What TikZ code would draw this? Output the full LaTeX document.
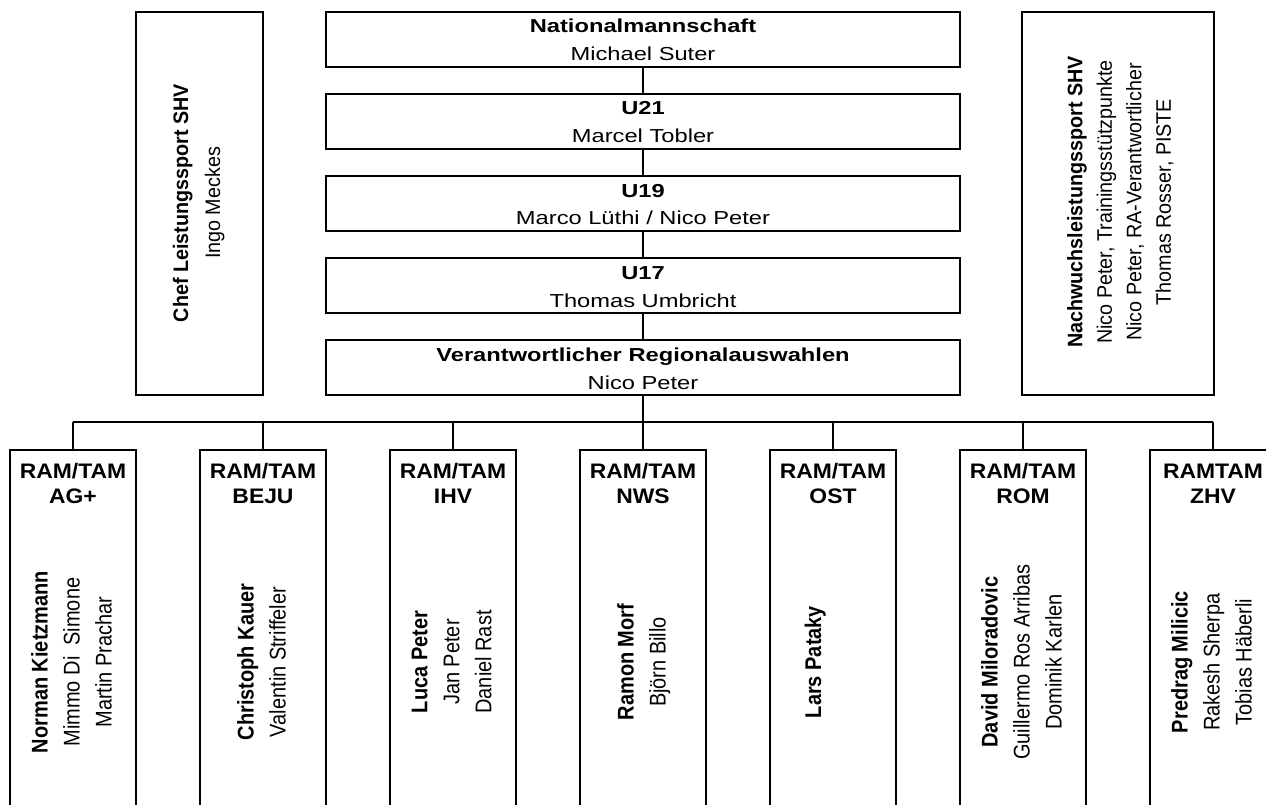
\documentclass[tikz,border=0pt]{standalone}
\usepackage{fontspec}
\setmainfont{Liberation Sans}
\newfontfamily\topf[FakeStretch=1.26]{Liberation Sans}
\newfontfamily\hdrf[FakeStretch=1.09]{Liberation Sans}
\newfontfamily\sidef[FakeStretch=0.94]{Liberation Sans}
\newfontfamily\botf[FakeStretch=0.88]{Liberation Sans}
\begin{document}
\begin{tikzpicture}[x=1pt,y=-1pt,
  box/.style={draw, line width=1.1pt, rectangle, inner sep=0pt, outer sep=0pt},
  topbox/.style={box, minimum width=634, minimum height=55},
  botbox/.style={box, minimum width=126, minimum height=424},
  conn/.style={draw, line width=1.1pt},
  topt/.style={anchor=base, inner sep=0pt, font=\topf\fontsize{18.8}{28}\selectfont},
  hdrt/.style={anchor=base, inner sep=0pt, font=\hdrf\fontsize{21}{26}\selectfont\bfseries},
  sidet/.style={rotate=90, align=center, inner sep=0pt, text depth=0pt},
  bott/.style={rotate=90, align=center, inner sep=0pt, text depth=0pt, font=\botf\fontsize{22.7}{32}\selectfont}]
\useasboundingbox (0,0) rectangle (1266,805);
\clip (0,0) rectangle (1266,805);
\fill[white] (0,0) rectangle (1266,805);

% top chain
\node[topbox] (nat) at (643,39.5) {};
\node[topbox] (u21) at (643,121.5) {};
\node[topbox] (u19) at (643,203.5) {};
\node[topbox] (u17) at (643,285.5) {};
\node[topbox] (reg) at (643,367.5) {};

\node[topt] (natA) at (643,33) {\bfseries Nationalmannschaft};
\node[topt] (natB) at (643,61) {Michael Suter};
\node[topt] (u21A) at (643,115) {\bfseries U21};
\node[topt] (u21B) at (643,143) {Marcel Tobler};
\node[topt] (u19A) at (643,197) {\bfseries U19};
\node[topt] (u19B) at (643,225) {Marco Lüthi / Nico Peter};
\node[topt] (u17A) at (643,279) {\bfseries U17};
\node[topt] (u17B) at (643,307) {Thomas Umbricht};
\node[topt] (regA) at (643,361) {\bfseries Verantwortlicher Regionalauswahlen};
\node[topt] (regB) at (643,389) {Nico Peter};

\draw[conn] (nat.south) -- (u21.north);
\draw[conn] (u21.south) -- (u19.north);
\draw[conn] (u19.south) -- (u17.north);
\draw[conn] (u17.south) -- (reg.north);

% side boxes
\node[box, minimum width=127, minimum height=383] (chef) at (199.5,203.5) {};
\node[sidet, font=\sidef\fontsize{21}{32}\selectfont] (chefT) at (196.5,203) {\bfseries Chef Leistungssport SHV\\Ingo Meckes};
\node[box, minimum width=192, minimum height=383] (nach) at (1118,203.5) {};
\node[sidet, font=\sidef\fontsize{21}{29.5}\selectfont] (nachT) at (1119,202) {\bfseries Nachwuchsleistungssport SHV\\Nico Peter,  Trainingsstützpunkte\\Nico Peter,  RA-Verantwortlicher\\Thomas Rosser, PISTE};

% bus
\coordinate (busL) at (73,422);
\coordinate (busR) at (1213,422);
\draw[conn] (reg.south) -- (reg.south |- busL);
\draw[conn] (busL) -- (busR);

% bottom boxes
\foreach \n/\cx in {b1/73, b2/263, b3/453, b4/643, b5/833, b6/1023, b7/1213} {
  \node[botbox] (\n) at (\cx,662) {};
  \draw[conn] (\n.north |- busL) -- (\n.north);
}

\node[hdrt] (h1a) at (73,478) {RAM/TAM};
\node[hdrt] (h1b) at (73,503) {AG+};
\node[hdrt] (h2a) at (263,478) {RAM/TAM};
\node[hdrt] (h2b) at (263,503) {BEJU};
\node[hdrt] (h3a) at (453,478) {RAM/TAM};
\node[hdrt] (h3b) at (453,503) {IHV};
\node[hdrt] (h4a) at (643,478) {RAM/TAM};
\node[hdrt] (h4b) at (643,503) {NWS};
\node[hdrt] (h5a) at (833,478) {RAM/TAM};
\node[hdrt] (h5b) at (833,503) {OST};
\node[hdrt] (h6a) at (1023,478) {RAM/TAM};
\node[hdrt] (h6b) at (1023,503) {ROM};
\node[hdrt] (h7a) at (1213,478) {RAMTAM};
\node[hdrt] (h7b) at (1213,503) {ZHV};

\node[bott] (t1) at (71.5,662) {\bfseries Norman Kietzmann\\Mimmo Di\ \ Simone\\Martin Prachar};
\node[bott] (t2) at (261.5,662) {\bfseries Christoph Kauer\\Valentin Striffeler};
\node[bott] (t3) at (451.5,662) {\bfseries Luca Peter\\Jan Peter\\Daniel Rast};
\node[bott] (t4) at (641.5,662) {\bfseries Ramon Morf\\Björn Billo};
\node[bott] (t5) at (813,662) {\bfseries Lars Pataky};
\node[bott] (t6) at (1021.5,662) {\bfseries David Miloradovic\\Guillermo Ros Arribas\\Dominik Karlen};
\node[bott] (t7) at (1211.5,662) {\bfseries Predrag Milicic\\Rakesh Sherpa\\Tobias Häberli};
\end{tikzpicture}
\end{document}
